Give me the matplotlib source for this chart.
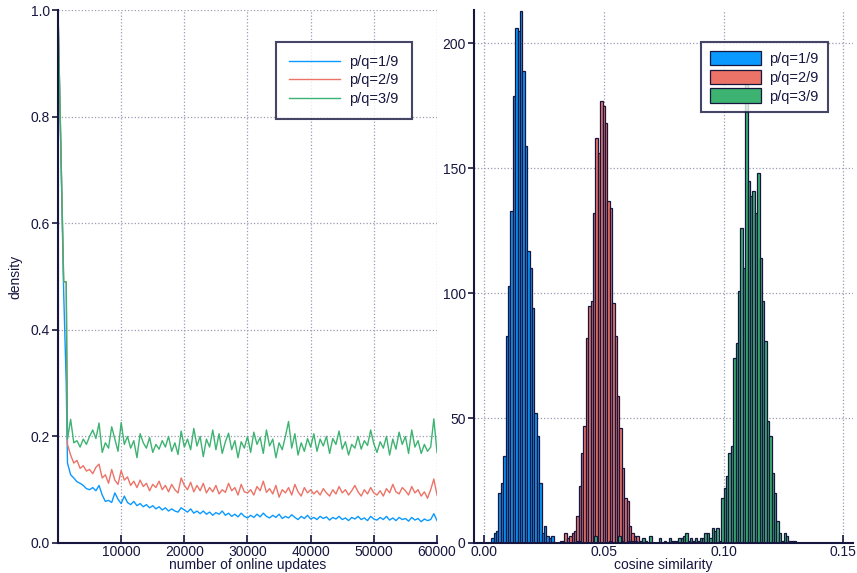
import numpy as np
import matplotlib
matplotlib.use('Agg')
import matplotlib.pyplot as plt

plt.rcParams['font.family'] = ['Liberation Sans', 'DejaVu Sans']

# ---- left panel: density vs number of online updates ----
labels = ['p/q=1/9', 'p/q=2/9', 'p/q=3/9']

# first samples (start + the short plateau before the drop)
early_updates = [0, 900, 1300]
early_blue = [1.0, 0.47, 0.30]
early_red = [1.0, 0.49, 0.49]
early_green = [1.0, 0.49, 0.49]

# then one sample every 500 updates from 1500 to 60000
dens_blue = [
    0.150, 0.128, 0.122, 0.115, 0.112, 0.108, 0.102, 0.100,
    0.104, 0.098, 0.108, 0.090, 0.078, 0.080, 0.076, 0.094, 0.082, 0.074,
    0.088, 0.076, 0.072, 0.078, 0.070, 0.074, 0.068, 0.072, 0.066, 0.070,
    0.064, 0.068, 0.062, 0.066, 0.060, 0.064, 0.060, 0.058, 0.066, 0.062,
    0.058, 0.064, 0.056, 0.060, 0.055, 0.060, 0.054, 0.058, 0.052, 0.057,
    0.054, 0.060, 0.052, 0.056, 0.050, 0.054, 0.049, 0.056, 0.050, 0.047,
    0.052, 0.048, 0.054, 0.049, 0.056, 0.050, 0.047, 0.052, 0.048, 0.054,
    0.046, 0.050, 0.047, 0.053, 0.048, 0.044, 0.050, 0.046, 0.052, 0.045,
    0.048, 0.044, 0.050, 0.046, 0.049, 0.043, 0.048, 0.045, 0.050, 0.044,
    0.047, 0.042, 0.048, 0.045, 0.050, 0.044, 0.047, 0.042, 0.050, 0.045,
    0.043, 0.048, 0.044, 0.050, 0.043, 0.047, 0.042, 0.048, 0.044, 0.046,
    0.041, 0.048, 0.043, 0.046, 0.040, 0.045, 0.042, 0.044, 0.055, 0.042,
]
dens_red = [
    0.185, 0.165, 0.150, 0.155, 0.140, 0.145, 0.135, 0.138,
    0.130, 0.142, 0.148, 0.122, 0.128, 0.112, 0.138, 0.118, 0.110, 0.136,
    0.118, 0.124, 0.108, 0.116, 0.104, 0.118, 0.106, 0.112, 0.098, 0.110,
    0.104, 0.116, 0.100, 0.108, 0.096, 0.110, 0.100, 0.094, 0.122, 0.108,
    0.100, 0.114, 0.096, 0.108, 0.098, 0.112, 0.094, 0.104, 0.096, 0.108,
    0.092, 0.100, 0.095, 0.112, 0.098, 0.104, 0.090, 0.110, 0.096, 0.094,
    0.100, 0.090, 0.106, 0.098, 0.116, 0.095, 0.102, 0.092, 0.108, 0.086,
    0.100, 0.094, 0.104, 0.090, 0.110, 0.096, 0.088, 0.104, 0.094, 0.100,
    0.092, 0.098, 0.090, 0.102, 0.094, 0.088, 0.100, 0.092, 0.106, 0.094,
    0.100, 0.090, 0.098, 0.108, 0.096, 0.088, 0.100, 0.092, 0.104, 0.094,
    0.090, 0.098, 0.088, 0.102, 0.094, 0.110, 0.096, 0.092, 0.104, 0.098,
    0.090, 0.106, 0.094, 0.100, 0.088, 0.096, 0.084, 0.100, 0.120, 0.090,
]
dens_green = [
    0.195, 0.232, 0.188, 0.192, 0.180, 0.195, 0.185, 0.200,
    0.212, 0.196, 0.225, 0.170, 0.188, 0.178, 0.218, 0.195, 0.172, 0.226,
    0.185, 0.200, 0.178, 0.192, 0.160, 0.205, 0.188, 0.178, 0.198, 0.170,
    0.185, 0.176, 0.192, 0.180, 0.200, 0.172, 0.188, 0.166, 0.210, 0.180,
    0.195, 0.175, 0.215, 0.182, 0.200, 0.162, 0.195, 0.180, 0.212, 0.175,
    0.205, 0.168, 0.190, 0.206, 0.175, 0.192, 0.160, 0.190, 0.178, 0.200,
    0.170, 0.208, 0.185, 0.198, 0.168, 0.212, 0.182, 0.195, 0.160, 0.188,
    0.175, 0.200, 0.228, 0.178, 0.205, 0.165, 0.188, 0.172, 0.196, 0.180,
    0.205, 0.172, 0.195, 0.182, 0.200, 0.168, 0.196, 0.185, 0.210, 0.176,
    0.190, 0.165, 0.185, 0.178, 0.200, 0.176, 0.192, 0.183, 0.212, 0.186,
    0.170, 0.190, 0.178, 0.200, 0.165, 0.195, 0.176, 0.208, 0.185, 0.200,
    0.168, 0.212, 0.180, 0.192, 0.168, 0.185, 0.172, 0.180, 0.233, 0.170,
]
sample_updates = np.linspace(1500, 60000, len(dens_blue))

# ---- right panel: histograms of cosine similarity ----
bin_width = 0.001
blue_first_bin = 0.003
blue_counts = [2, 4, 5, 20, 24, 35, 83, 103, 133, 179, 206, 205, 213,
               189, 159, 117, 110, 94, 52, 43, 24, 4, 7, 3, 2, 3]
red_first_bin = 0.0315
red_counts = [1, 1, 4, 2, 3, 4, 5, 11, 23, 36, 47, 82, 95, 97, 132, 162,
              156, 177, 175, 168, 137, 134, 96, 83, 59, 46, 30, 18, 17, 7,
              4, 3, 3, 1]
green_first_bin = 0.039
green_counts = [1, 0, 0, 0, 0, 0, 0, 3, 0, 0, 0, 0, 0, 1, 0, 0, 0, 3, 1, 0,
                0, 1, 1, 0, 1, 0, 1, 2, 1, 0, 3, 0, 0, 0, 2, 0, 1, 0, 2, 1,
                1, 1, 2, 2, 3, 4, 1, 2, 1, 2, 1, 2, 2, 4, 4, 2, 6, 5, 6, 1,
                18, 22, 27, 36, 39, 74, 80, 101, 126, 110, 185, 145, 139, 141,
                132, 148, 114, 97, 81, 49, 43, 28, 20, 9, 4, 1, 4, 3, 1, 1, 1]

c_blue = '#0a99ff'
c_red = '#ec7367'
c_green = '#3cb371'
navy = '#16163f'
grid_c = '#9a9ab4'

fig = plt.figure(figsize=(8.57, 5.73), dpi=100)
ax1 = fig.add_axes([58 / 857, 1 - 543 / 573, 379 / 857, 533 / 573])
ax2 = fig.add_axes([474 / 857, 1 - 543 / 573, 379 / 857, 533 / 573])


def style(ax):
    for side in ['top', 'right']:
        ax.spines[side].set_visible(False)
    for side in ['left', 'bottom']:
        ax.spines[side].set_color(navy)
        ax.spines[side].set_linewidth(1.5)
    ax.grid(True, linestyle=':', color=grid_c, linewidth=0.9)
    ax.set_axisbelow(True)
    ax.tick_params(axis='x', direction='in', length=6, width=1.2, color=navy,
                   labelcolor=navy, labelsize=10, pad=1.5)
    ax.tick_params(axis='y', direction='out', length=4, width=1.2, color=navy,
                   labelcolor=navy, labelsize=10, pad=2)


def style_legend(leg):
    leg.get_frame().set_edgecolor(navy)
    leg.get_frame().set_linewidth(1.5)
    for t in leg.get_texts():
        t.set_color(navy)


style(ax1)
series = [(early_blue, dens_blue, c_blue), (early_red, dens_red, c_red),
          (early_green, dens_green, c_green)]
for (early, dens, col), lab in zip(series, labels):
    xs = np.concatenate([early_updates, sample_updates])
    ys = np.concatenate([early, dens])
    ax1.plot(xs, ys, color=col, lw=1.0, label=lab)
ax1.set_xlim(0, 60000)
ax1.set_ylim(0, 1.0)
ax1.set_xticks([0, 10000, 20000, 30000, 40000, 50000, 60000])
ax1.set_xticklabels(['', '10000', '20000', '30000', '40000', '50000', '60000'])
ax1.set_yticks([0.0, 0.2, 0.4, 0.6, 0.8, 1.0])
ax1.set_xlabel('number of online updates', color=navy, fontsize=10, labelpad=-0.5)
ax1.set_ylabel('density', color=navy, fontsize=10, labelpad=6)
leg1 = ax1.legend(loc='upper right', bbox_to_anchor=(0.934, 0.94),
                  fontsize=10.5, frameon=True, fancybox=False,
                  handlelength=3.5, borderpad=0.9, labelspacing=0.3,
                  handletextpad=0.65, borderaxespad=0)
style_legend(leg1)

style(ax2)
for first, counts, col, lab in [(blue_first_bin, blue_counts, c_blue, labels[0]),
                                (red_first_bin, red_counts, c_red, labels[1]),
                                (green_first_bin, green_counts, c_green, labels[2])]:
    left_edges = first + bin_width * np.arange(len(counts))
    ax2.bar(left_edges, counts, width=bin_width, align='edge', color=col,
            edgecolor=navy, linewidth=0.9, label=lab)
ax2.set_xlim(-0.0042, 0.154)
ax2.set_ylim(0, 213.4)
ax2.set_xticks([0.0, 0.05, 0.10, 0.15])
ax2.set_xticklabels(['0.00', '0.05', '0.10', '0.15'])
ax2.set_yticks([0, 50, 100, 150, 200])
ax2.set_xlabel('cosine similarity', color=navy, fontsize=10, labelpad=-0.5)
leg2 = ax2.legend(loc='upper right', bbox_to_anchor=(0.933, 0.94),
                  fontsize=10.5, frameon=True, fancybox=False,
                  handlelength=3.5, handleheight=1.15, borderpad=0.6,
                  labelspacing=0.25, handletextpad=0.6, borderaxespad=0)
style_legend(leg2)

fig.savefig('out.png', dpi=100)
